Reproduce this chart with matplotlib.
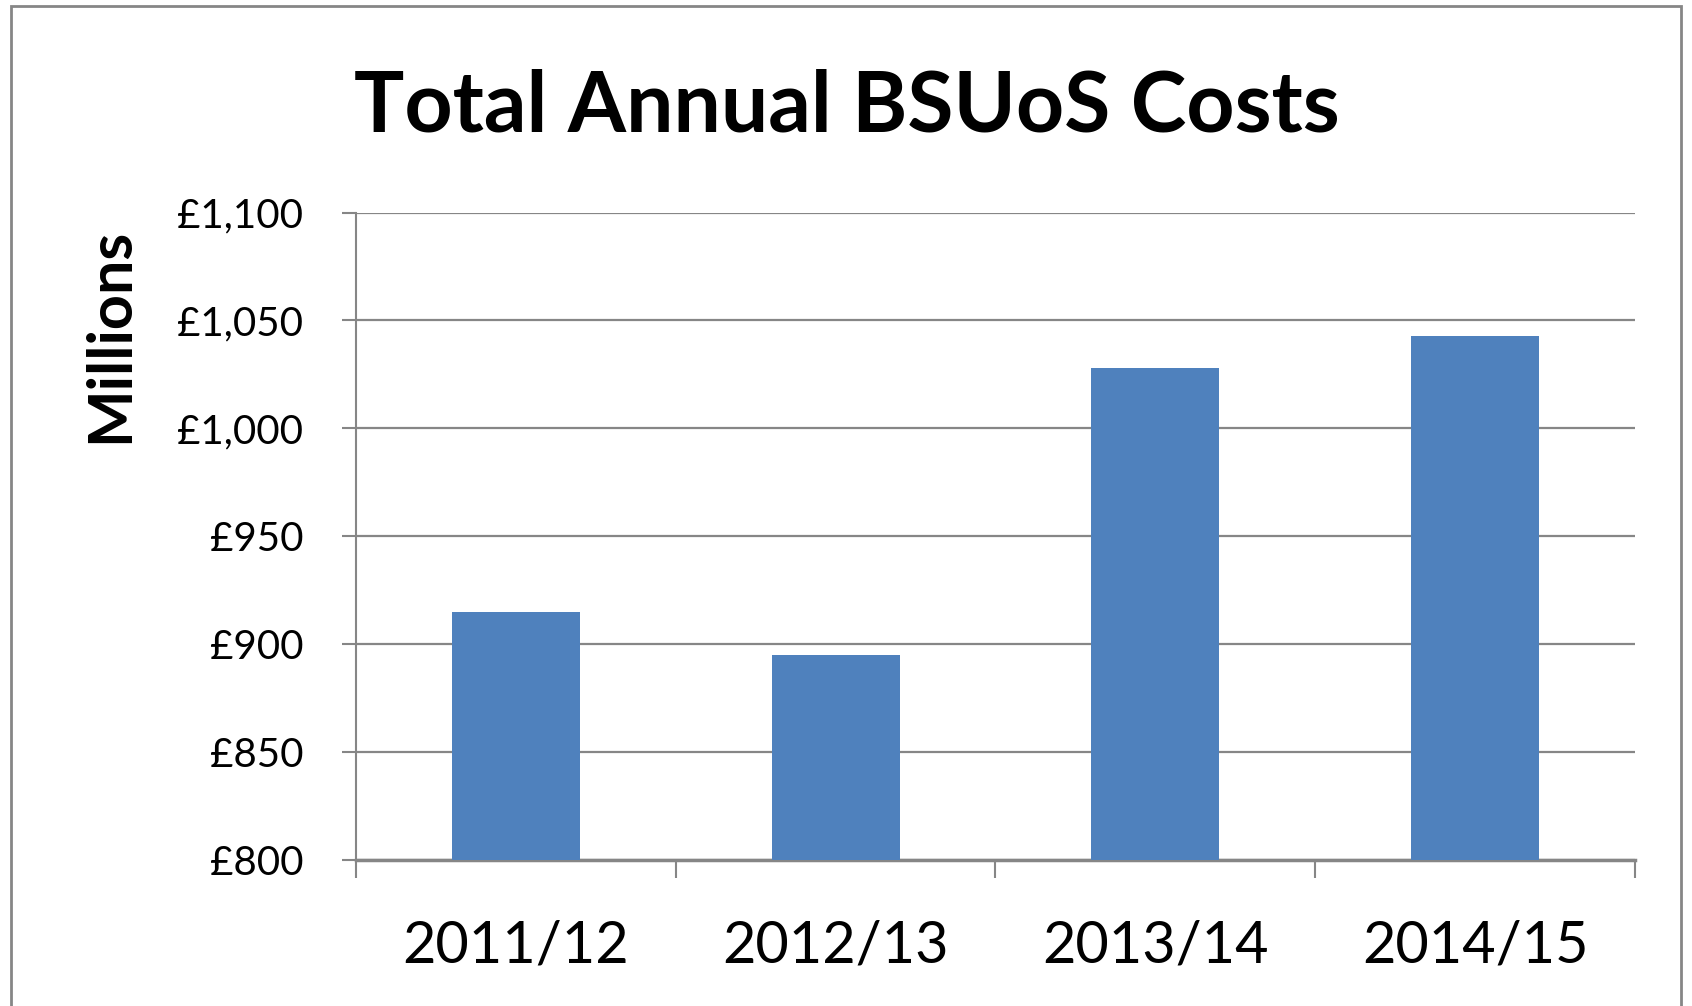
import matplotlib
matplotlib.use("Agg")
import matplotlib.pyplot as plt
from matplotlib.patches import Rectangle
from matplotlib.ticker import FuncFormatter

plt.rcParams['font.family'] = ['Lato', 'DejaVu Sans']

# data (GBP millions)
years = ['2011/12', '2012/13', '2013/14', '2014/15']
costs = [915, 895, 1028, 1043]
y_ticks = [800, 850, 900, 950, 1000, 1050, 1100]

grey = '#868686'
bar_colour = '#4F81BD'

fig = plt.figure(figsize=(16.92, 10.06), dpi=100)
ax = fig.add_axes([0.2104, 0.1451, 0.9663 - 0.2104, 0.7887 - 0.1451])

x = list(range(len(years)))
ax.bar(x, costs, width=0.4, color=bar_colour, zorder=3)

ax.set_ylim(800, 1100)
ax.set_xlim(-0.5, len(years) - 0.5)
ax.set_yticks(y_ticks)
ax.yaxis.set_major_formatter(FuncFormatter(lambda v, p: '£{:,.0f}'.format(v)))
ax.grid(axis='y', color=grey, linewidth=1.6, zorder=0)

# tick marks between categories, labels under the bars
ax.set_xticks([i - 0.5 for i in range(len(years) + 1)])
ax.set_xticklabels([])
ax.set_xticks(x, minor=True)
ax.set_xticklabels(years, minor=True)
ax.tick_params(axis='x', which='major', length=13, width=1.5, color=grey)
ax.tick_params(axis='x', which='minor', length=0, pad=43, labelsize=41.5)
ax.tick_params(axis='y', length=10, width=1.5, color=grey, pad=28, labelsize=29)

for s in ['top', 'right']:
    ax.spines[s].set_visible(False)
ax.spines['left'].set_color(grey)
ax.spines['left'].set_linewidth(1.5)
ax.spines['bottom'].set_color(grey)
ax.spines['bottom'].set_linewidth(2.5)

# axis title sits high, next to the upper ticks
fig.text(0.065, 0.6664, 'Millions', rotation=90, ha='center', va='center',
         fontsize=44, fontweight='bold')

fig.text(0.5006, 0.869, 'Total Annual BSUoS Costs', ha='center', va='baseline',
         fontsize=60.5, fontweight='bold')

# outer chart frame
fig.patches.append(Rectangle((11 / 1692, -0.05), 1670 / 1692, 1.05 - 6 / 1006,
                             transform=fig.transFigure, fill=False,
                             edgecolor=grey, linewidth=2))

fig.savefig('out.png', dpi=100)
